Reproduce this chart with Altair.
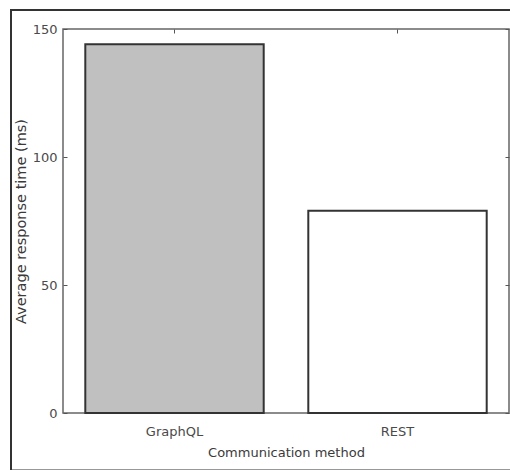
import altair as alt
import pandas as pd

methods = ["GraphQL", "REST"]
avg_ms = [144, 79]
fills = ["#c0c0c0", "#ffffff"]
y_ticks = [0, 50, 100, 150]

df = pd.DataFrame({"method": methods, "ms": avg_ms})

FONT = "DejaVu Sans"

x_scale = alt.Scale(domain=methods, paddingInner=0.2, paddingOuter=0.1)
y_scale = alt.Scale(domain=[0, 150], nice=False)

bars = alt.Chart(df).mark_bar(stroke="#333333", strokeWidth=2).encode(
    x=alt.X("method:N", scale=x_scale, sort=methods,
            axis=alt.Axis(orient="bottom", title="Communication method", labelAngle=0,
                          offset=-4, tickSize=4, domain=False, labelPadding=12,
                          titlePadding=8, tickColor="#555555")),
    y=alt.Y("ms:Q", scale=y_scale,
            axis=alt.Axis(orient="left", title="Average response time (ms)", values=y_ticks,
                          offset=-4, tickSize=4, domain=False, labelPadding=6,
                          titlePadding=4, titleFontSize=14.5, grid=False, tickColor="#555555")),
    fill=alt.Fill("method:N", scale=alt.Scale(domain=methods, range=fills), legend=None),
)

mirror = alt.Chart(df).mark_bar(opacity=0).encode(
    x=alt.X("method:N", scale=x_scale, sort=methods,
            axis=alt.Axis(orient="top", title=None, labels=False, offset=-4, tickSize=4,
                          domain=False, tickColor="#555555")),
    y=alt.Y("ms:Q", scale=y_scale,
            axis=alt.Axis(orient="right", title=None, labels=False, values=y_ticks,
                          offset=-4, tickSize=4, domain=False, grid=False, tickColor="#555555")),
)

frame = alt.Chart(alt.Data(values=[{"f": 1}])).mark_rect(
    filled=False, stroke="#333333", strokeWidth=2
).encode(
    x=alt.value(-52), x2=alt.value(460), y=alt.value(-19), y2=alt.value(441.5)
)

chart = alt.layer(bars, mirror, frame).resolve_axis(
    x="independent", y="independent"
).properties(
    width=446, height=384,
    autosize=alt.AutoSizeParams(type="none"),
    padding={"left": 63, "top": 29, "right": 1, "bottom": 57},
    background="white",
).configure_view(
    stroke="#666666", strokeWidth=1.5
).configure_axis(
    labelFont=FONT, labelFontSize=13, labelColor="#4a4a4a",
    titleFont=FONT, titleFontSize=13, titleFontWeight="normal", titleColor="#3a3a3a",
)

chart.save("out.html", embed_options={"renderer": "svg", "actions": False})
